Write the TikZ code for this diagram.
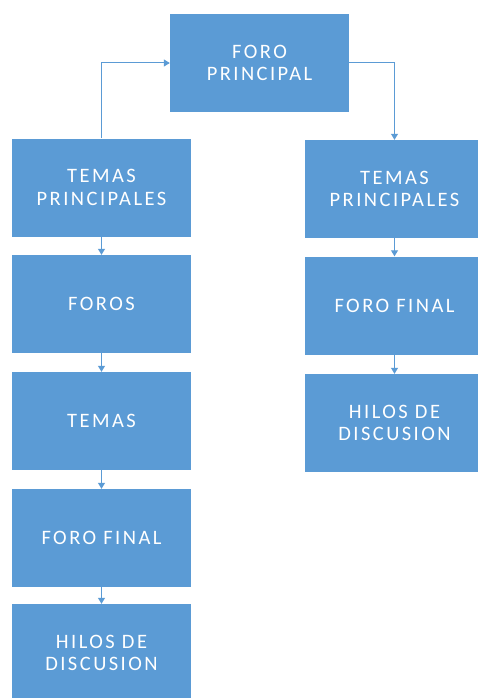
\documentclass[tikz,border=0pt]{standalone}
\usepackage{fontspec}
\setmainfont{Carlito}[LetterSpace=12]
\usetikzlibrary{arrows.meta}
\definecolor{boxblue}{HTML}{5B9BD5}
\tikzset{
  box/.style={fill=boxblue, draw=none, minimum width=179pt, minimum height=98pt,
    inner sep=0pt, text=white, align=center, font=\fontsize{20.5}{22.5}\selectfont},
  conn/.style={draw=boxblue, line width=1pt, -{Triangle[width=7pt,length=6pt]}}
}
\begin{document}
\begin{tikzpicture}[x=1pt,y=-1pt]
\useasboundingbox (0,0) rectangle (477,698);
\fill[white] (0,0) rectangle (477,698);
\node[box] (top) at (259.5,63) {FORO\\PRINCIPAL};
\node[box] (l1) at (101.5,187.5) {TEMAS\\PRINCIPALES};
\node[box] (l2) at (101.5,304) {FOROS};
\node[box] (l3) at (101.5,421) {TEMAS};
\node[box] (l4) at (101.5,538) {FORO FINAL};
\node[box] (l5) at (101.5,653) {HILOS DE\\DISCUSION};
\node[box] (r1) at (394.5,189) {TEMAS\\PRINCIPALES};
\node[box] (r2) at (394.5,305.5) {FORO FINAL};
\node[box] (r3) at (394.5,423) {HILOS DE\\DISCUSION};
\draw[conn] (l1.north) |- (top.west);
\draw[conn] (top.east) -| (r1.north);
\draw[conn] (l1) -- (l2);
\draw[conn] (l2) -- (l3);
\draw[conn] (l3) -- (l4);
\draw[conn] (l4) -- (l5);
\draw[conn] (r1) -- (r2);
\draw[conn] (r2) -- (r3);
\end{tikzpicture}
\end{document}
